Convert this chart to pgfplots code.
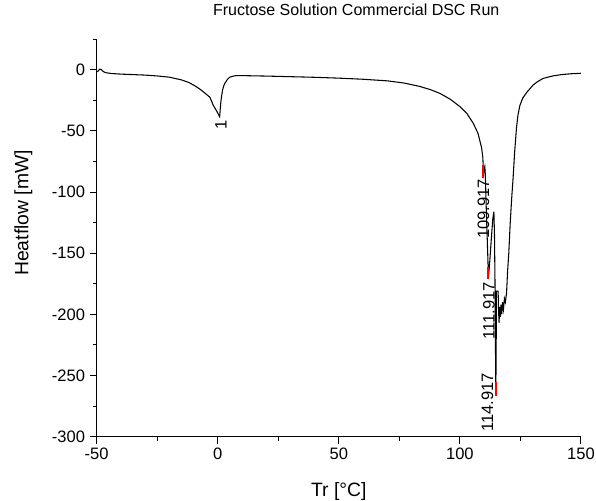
\documentclass[border=0pt]{standalone}
\usepackage{fontspec}
\setmainfont{Liberation Sans}
\usepackage{pgfplots}
\pgfplotsset{compat=1.18}
\begin{document}
\begin{tikzpicture}
\useasboundingbox (-72.5pt,-48.2pt) rectangle (374.5pt,327.5pt);
\begin{axis}[
 at={(0,0)}, anchor=south west,
 scale only axis, width=363.2pt, height=298.05pt,
 xmin=-50, xmax=150, ymin=-300, ymax=25,
 axis x line=bottom, axis y line=left,
 axis line style={-, line width=0.75pt, black},
 xtick={-50,0,50,100,150}, ytick={-300,-250,...,0},
 minor xtick={-25,25,75,125}, minor ytick={-275,-225,...,25},
 tick align=outside,
 major tick length=5.25pt, minor tick length=3pt,
 every tick/.style={black, line width=0.75pt},
 /pgf/number format/assume math mode=true,
 ticklabel style={font=\fontsize{12.4}{14}\selectfont},
 title={Fructose Solution Commercial DSC Run},
 title style={at={(axis description cs:0.536,1)}, anchor=base, yshift=11.5pt, font=\fontsize{12}{14}\selectfont},
 xlabel={Tr [°C]},
 xlabel style={at={(axis description cs:0.5,-0.15)}, anchor=base, font=\fontsize{14.5}{17}\selectfont},
 ylabel={Heatflow [mW]},
 ylabel style={at={(axis description cs:-0.1408,0.563)}, anchor=base, font=\fontsize{14.5}{17}\selectfont},
 clip=false,
]
\addplot[black, line width=0.8pt] coordinates {
(-50,-1.5) (-49.5,-1.2) (-49.0,0.0) (-48.6,0.6) (-48.1,0.2) (-47.5,-1.0) (-46.8,-1.9) (-46,-2.4) (-44,-3.0) (-40,-3.5) (-35,-3.9) (-30,-4.3) (-25,-5.0) (-20,-6.0) (-15,-8.2) (-12,-10.3) (-9.5,-13) (-7.4,-15.7) (-5,-19.5) (-3.2,-22.5) (-1.85,-29) (-0.5,-33.5) (0.8,-38.3)
(1.0,-33) (1.3,-26) (1.6,-21.5) (2.0,-16.5) (2.5,-13) (3,-10.9) (4,-7.8) (5,-6.0) (6.5,-5.1) (7.8,-4.7) (12,-4.8) (20,-5.1) (30,-5.6) (40,-6.1) (50,-6.8) (60,-7.7) (70,-9.0) (77,-10.8) (83.5,-13.6) (88,-16.3) (91.8,-19.3) (96,-24) (100,-30) (103,-36) (105.5,-43.6) (107.5,-52) (109,-64) (109.5,-72) (109.65,-80) (109.7,-88.5) (109.9,-82) (110.3,-79) (110.5,-85) (111,-120) (111.5,-150) (111.8,-170) (112.3,-158) (113,-138) (113.6,-122) (114.05,-116) (114.3,-135) (114.5,-172) (114.7,-225) (114.85,-265) (115.0,-225) (115.1,-181) (115.8,-181) (116.0,-198) (116.2,-207) (116.4,-194) (116.7,-202) (117.0,-192) (117.3,-200) (117.6,-190) (118.0,-196) (118.4,-187) (118.8,-190) (119.3,-182) (119.7,-165) (120.2,-150) (120.8,-125) (121.4,-105) (122.0,-88) (122.6,-68) (123.4,-47) (124.0,-37) (124.8,-29) (126,-23) (127.6,-18.5) (130.3,-12.3) (132,-9.8) (134.4,-7.0) (138.6,-4.9) (142,-3.9) (146,-3.2) (150,-2.8)
};
\addplot[red, line width=1.5pt] coordinates {(109.6,-77.7) (109.6,-88.6)};
\addplot[red, line width=1.5pt] coordinates {(111.8,-160.9) (111.8,-171)};
\addplot[red, line width=1.5pt] coordinates {(114.85,-255) (114.85,-267)};
\node[rotate=90, anchor=center, inner sep=0pt, font=\fontsize{12.4}{14}\selectfont] at (axis cs:1.3,-45) {1};
\node[rotate=90, anchor=east, inner sep=0pt, font=\fontsize{12.4}{14}\selectfont] at (axis cs:109.73,-89) {109.917};
\node[rotate=90, anchor=east, inner sep=0pt, font=\fontsize{12.4}{14}\selectfont] at (axis cs:112.0,-173.4) {111.917};
\node[rotate=90, anchor=east, inner sep=0pt, font=\fontsize{12.4}{14}\selectfont] at (axis cs:111.4,-248) {114.917};
\end{axis}
\end{tikzpicture}
\end{document}
